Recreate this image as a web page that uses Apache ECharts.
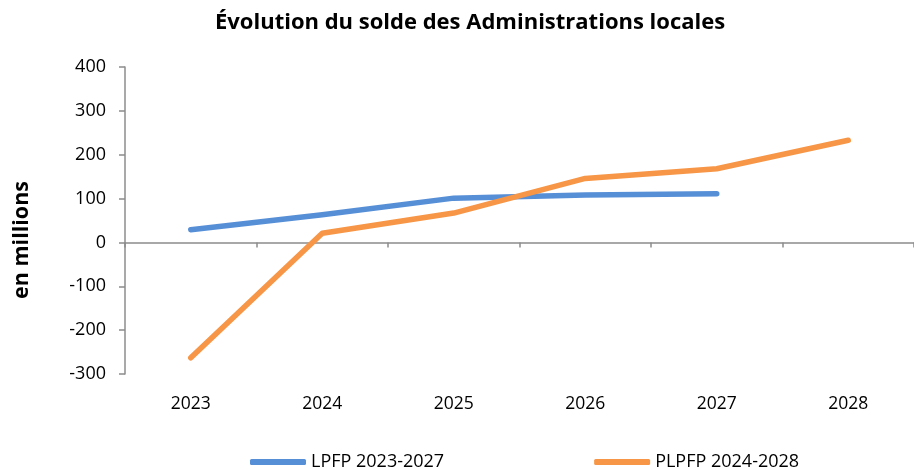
<!DOCTYPE html>
<html>
<head>
<meta charset="utf-8">
<script src="https://cdn.jsdelivr.net/npm/echarts@6/dist/echarts.min.js"></script>
<style>
html,body{margin:0;padding:0;background:#fff;}
#main{width:914px;height:470px;}
</style>
</head>
<body>
<div id="main"></div>
<script>
var years = ['2023', '2024', '2025', '2026', '2027', '2028'];
var lpfp = [29, 63, 101, 108, 111, null];
var plpfp = [-263, 21, 67, 146, 168, 233];
var yTicks = {min: -300, max: 400, step: 100};

var font = '"Open Sans", sans-serif';
var axisGrey = '#8c8c8c';

var myChart = echarts.init(document.getElementById('main'));
myChart.setOption({
    animation: false,
    backgroundColor: '#fff',
    title: {
        text: 'Évolution du solde des Administrations locales',
        left: 210,
        top: 7,
        textStyle: {fontFamily: font, fontSize: 22, fontWeight: 'bold', color: '#000'}
    },
    graphic: [{
        type: 'text',
        x: 22,
        y: 240,
        rotation: Math.PI / 2,
        style: {
            text: 'en millions',
            align: 'center',
            verticalAlign: 'middle',
            font: 'bold 21.5px "Open Sans", sans-serif',
            fill: '#000'
        }
    }],
    legend: {
        top: 448,
        left: 245,
        itemGap: 150,
        itemWidth: 56,
        itemHeight: 6,
        icon: 'roundRect',
        textStyle: {fontFamily: font, fontSize: 18, color: '#000'},
        data: ['LPFP 2023-2027', 'PLPFP 2024-2028']
    },
    grid: {left: 125, width: 794, top: 67, bottom: 96, containLabel: false},
    xAxis: [{
        type: 'category',
        data: years,
        position: 'bottom',
        axisLine: {show: false, onZero: false},
        axisTick: {show: false},
        axisLabel: {fontFamily: font, fontSize: 17.5, color: '#000', margin: 21}
    }, {
        type: 'category',
        data: years,
        position: 'bottom',
        axisLine: {show: true, onZero: true, lineStyle: {color: axisGrey, width: 1.5}},
        axisTick: {show: true, length: 5, lineStyle: {color: axisGrey, width: 1.5}},
        axisLabel: {show: false}
    }],
    yAxis: {
        type: 'value',
        min: yTicks.min,
        max: yTicks.max,
        interval: yTicks.step,
        splitLine: {show: false},
        axisLine: {show: true, lineStyle: {color: axisGrey, width: 1.5}},
        axisTick: {show: true, length: 6, lineStyle: {color: axisGrey, width: 1.5}},
        axisLabel: {fontFamily: font, fontSize: 18, color: '#000', margin: 19}
    },
    series: [{
        name: 'LPFP 2023-2027',
        type: 'line',
        data: lpfp,
        showSymbol: false,
        symbol: 'none',
        color: '#578fd7',
        lineStyle: {width: 5.5, cap: 'round', join: 'round'}
    }, {
        name: 'PLPFP 2024-2028',
        type: 'line',
        data: plpfp,
        showSymbol: false,
        symbol: 'none',
        color: '#f79646',
        lineStyle: {width: 5.5, cap: 'round', join: 'round'}
    }]
});
</script>
</body>
</html>
